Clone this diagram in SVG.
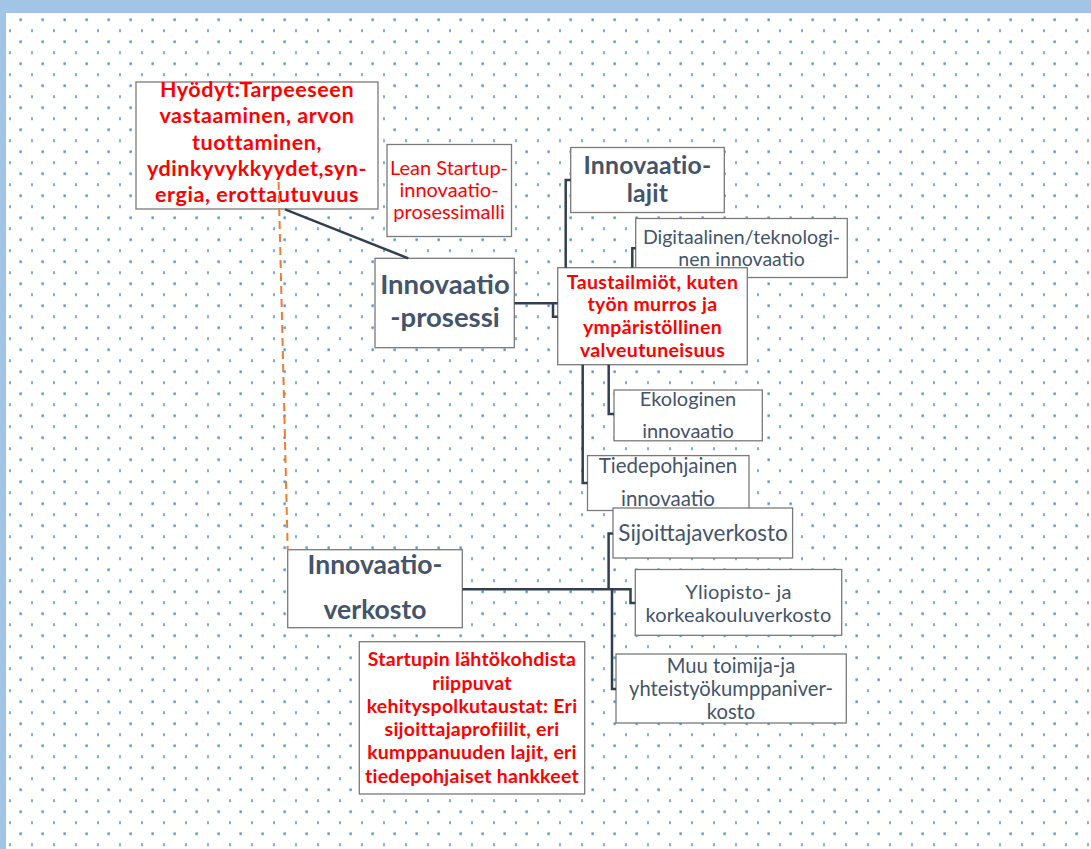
<svg xmlns="http://www.w3.org/2000/svg" width="1091" height="849" viewBox="0 0 1091 849">
<defs>
<pattern id="dots" patternUnits="userSpaceOnUse" x="0" y="0" width="22" height="22">
<circle cx="20.7" cy="19.7" r="1.9" fill="#5b9bd5" opacity="0.35"/>
<circle cx="20.7" cy="19.7" r="1.2" fill="#5b9bd5"/>
<rect x="9.2" y="7.2" width="1.6" height="3" fill="#5b9bd5"/>
</pattern>
<style>
.box{fill:#ffffff;stroke:#7a7a7a;stroke-width:1.3}
.hd{font-family:Lato,"Open Sans",sans-serif;font-weight:bold;fill:#44546a;text-anchor:middle}
.tx{font-family:Lato,"Open Sans",sans-serif;fill:#44546a;text-anchor:middle}
.rb{font-family:Lato,"Open Sans",sans-serif;font-weight:bold;fill:#ff0000;text-anchor:middle}
.rn{font-family:Lato,"Open Sans",sans-serif;fill:#ff0000;text-anchor:middle}
.ln{fill:none;stroke:#333f50;stroke-width:2.5}
.dash{fill:none;stroke:#ed7d31;stroke-width:2;stroke-dasharray:8 5}
</style>
</defs>
<rect x="0" y="0" width="1091" height="849" fill="#a2c4e7"/>
<rect x="6" y="13" width="1085" height="836" fill="#ffffff"/>
<rect x="6" y="13" width="1085" height="836" fill="url(#dots)"/>

<g id="hyodyt">
<rect class="box" x="136" y="82" width="242" height="127"/>
<text class="rb" font-size="21.5" letter-spacing="0.55"><tspan x="257" y="97">Hyödyt:Tarpeeseen</tspan><tspan x="257" y="123">vastaaminen, arvon</tspan><tspan x="257" y="149.5">tuottaminen,</tspan><tspan x="257" y="175.5">ydinkyvykkyydet,syn-</tspan><tspan x="257" y="201.5">ergia, erottautuvuus</tspan></text>
</g>
<g id="lean">
<rect class="box" x="387" y="144.5" width="124.5" height="92"/>
<text class="rn" font-size="20"><tspan x="449" y="174.5">Lean Startup-</tspan><tspan x="449" y="196.5">innovaatio-</tspan><tspan x="449" y="219">prosessimalli</tspan></text>
</g>
<g id="lajit">
<rect class="box" x="570.7" y="147.5" width="153.6" height="65"/>
<text class="hd" font-size="24.8" letter-spacing="0.2"><tspan x="647.5" y="173.5">Innovaatio-</tspan><tspan x="647.5" y="202">lajit</tspan></text>
</g>
<g id="digitaalinen">
<rect class="box" x="635.7" y="218.5" width="211.6" height="59"/>
<text class="tx" font-size="19.5"><tspan x="741.5" y="243.5">Digitaalinen/teknologi-</tspan><tspan x="741.5" y="265.5">nen innovaatio</tspan></text>
</g>
<g id="prosessi">
<rect class="box" x="375" y="258.3" width="139.3" height="89.4"/>
<text class="hd" font-size="27.5"><tspan x="445" y="294">Innovaatio</tspan><tspan x="445" y="327">-prosessi</tspan></text>
</g>
<g id="taustailmiot">
<rect class="box" x="557.7" y="267.7" width="189.6" height="97"/>
<text class="rb" font-size="19.5" letter-spacing="0.35"><tspan x="652.5" y="288.5">Taustailmiöt, kuten</tspan><tspan x="652.5" y="311">työn murros ja</tspan><tspan x="652.5" y="333.5">ympäristöllinen</tspan><tspan x="652.5" y="356.5">valveutuneisuus</tspan></text>
</g>
<g id="ekologinen">
<rect class="box" x="614" y="390" width="148.3" height="50.8"/>
<text class="tx" font-size="20"><tspan x="688" y="406">Ekologinen</tspan><tspan x="688" y="437.5">innovaatio</tspan></text>
</g>
<g id="tiedepohjainen">
<rect class="box" x="587.5" y="455.6" width="161.5" height="54.9"/>
<text class="tx" font-size="20.5"><tspan x="668" y="473">Tiedepohjainen</tspan><tspan x="668" y="506">innovaatio</tspan></text>
</g>
<g id="sijoittajaverkosto">
<rect class="box" x="613" y="508" width="179.6" height="50"/>
<text class="tx" font-size="22.5" x="703" y="540.5">Sijoittajaverkosto</text>
</g>
<g id="verkosto">
<rect class="box" x="287.7" y="549.7" width="174.6" height="78"/>
<text class="hd" font-size="26.5"><tspan x="375" y="574">Innovaatio-</tspan><tspan x="375" y="619">verkosto</tspan></text>
</g>
<g id="yliopisto">
<rect class="box" x="635.3" y="569.5" width="206.4" height="65.8"/>
<text class="tx" font-size="20" letter-spacing="0.2"><tspan x="738.5" y="598.5">Yliopisto- ja</tspan><tspan x="738.5" y="622">korkeakouluverkosto</tspan></text>
</g>
<g id="muu">
<rect class="box" x="616" y="654" width="230.3" height="69"/>
<text class="tx" font-size="20.2"><tspan x="731" y="673">Muu toimija-ja</tspan><tspan x="731" y="695.5">yhteistyökumppaniver-</tspan><tspan x="731" y="719">kosto</tspan></text>
</g>
<g id="startupin">
<rect class="box" x="359.3" y="641.7" width="225.4" height="152.3"/>
<text class="rb" font-size="19.5" letter-spacing="0.25"><tspan x="472" y="666">Startupin lähtökohdista</tspan><tspan x="472" y="689.5">riippuvat</tspan><tspan x="472" y="712.5">kehityspolkutaustat: Eri</tspan><tspan x="472" y="736">sijoittajaprofiilit, eri</tspan><tspan x="472" y="759">kumppanuuden lajit, eri</tspan><tspan x="472" y="782.5">tiedepohjaiset hankkeet</tspan></text>
</g>

<g id="connectors">
<path class="ln" d="M285,209.3 L408.3,258.3"/>
<path class="ln" d="M514.3,303.3 H557.7"/>
<path class="ln" d="M553,303.3 V316.7 H557.7"/>
<path class="ln" d="M570.7,180 H565.7 V267.7"/>
<path class="ln" d="M635.7,248.3 H632.3 V267.7"/>
<path class="ln" d="M582.7,364.7 V483 H587.5"/>
<path class="ln" d="M608.7,364.7 V414 H614"/>
<path class="ln" d="M462.3,589.3 H630.5 V603 H635.3"/>
<path class="ln" d="M613,533.4 H608.6 V589.3"/>
<path class="ln" d="M612,589.3 V689 H616"/>
<path class="dash" d="M278.6,182 L287.7,549.7"/>
</g>
</svg>
